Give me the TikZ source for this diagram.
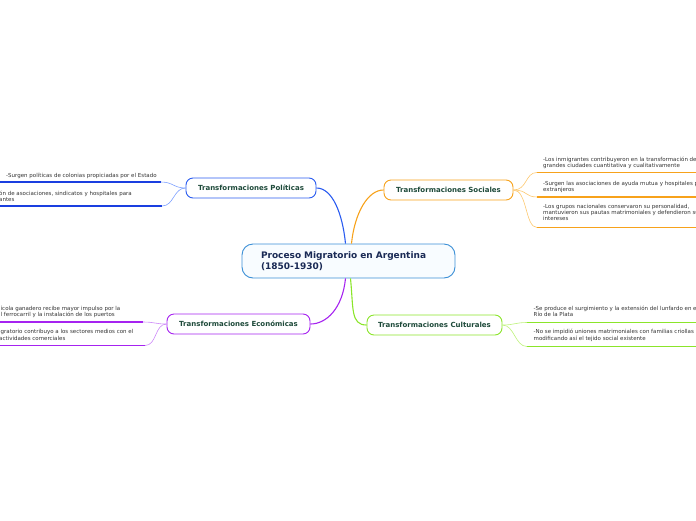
\documentclass[tikz,border=0pt]{standalone}
\usepackage{fontspec}
\setmainfont{DejaVu Sans}
\usetikzlibrary{positioning}

\definecolor{centralblue}{HTML}{3B8FD6}
\definecolor{centralfill}{HTML}{F8FCFF}
\definecolor{centraltext}{HTML}{1A2A55}
\definecolor{topictext}{HTML}{1E4A3A}
\definecolor{leaftext}{HTML}{333333}
\definecolor{polblue}{HTML}{2A5CF0}
\definecolor{polline}{HTML}{1A3FE0}
\definecolor{poltwig}{HTML}{7DA0FF}
\definecolor{socorange}{HTML}{F7A21B}
\definecolor{soctwig}{HTML}{FCC870}
\definecolor{ecopurple}{HTML}{A623F0}
\definecolor{ecotwig}{HTML}{CC88F8}
\definecolor{culgreen}{HTML}{8BE52A}
\definecolor{cultwig}{HTML}{BDF27A}

\begin{document}
\begin{tikzpicture}[x=1pt, y=-1pt,
    central/.style={rectangle, draw=centralblue, rounded corners=11pt, fill=centralfill, line width=0.9pt, inner xsep=19pt, inner ysep=3pt, text width=175pt, minimum height=34pt, text=centraltext, font=\fontsize{9}{11}\selectfont\bfseries, align=left},
    topic/.style={rectangle, draw, rounded corners=7pt, fill=white, line width=0.9pt, minimum height=20pt, text=topictext, font=\fontsize{7}{8}\selectfont\bfseries},
    leaf/.style={anchor=base west, inner sep=0pt, text=leaftext, font=\fontsize{5.5}{6.1}\selectfont, align=left},
    branch/.style={line width=1.1pt},
    twig/.style={line width=0.6pt},
    leafline/.style={line width=1.5pt}
]
\useasboundingbox (0,0) rectangle (696,520);
\clip (0,0) rectangle (696,520);

% central idea and main topics
\node[central] (central) at (348.5,261) {Proceso Migratorio en Argentina\\(1850-1930)};
\node[topic, draw=polblue, minimum width=130pt] (pol) at (251,188) {Transformaciones Políticas};
\node[topic, draw=socorange, minimum width=129pt] (soc) at (448.5,190) {Transformaciones Sociales};
\node[topic, draw=ecopurple, minimum width=143pt] (eco) at (238.5,324) {Transformaciones Económicas};
\node[topic, draw=culgreen, minimum width=135pt] (cul) at (434.5,325) {Transformaciones Culturales};

\draw[branch, polblue] ([xshift=-3pt]central.north) .. controls +(-3,-30) and +(16,0) .. (pol.east);
\draw[branch, socorange] ([xshift=3pt]central.north) .. controls +(3,-30) and +(-16,0) .. (soc.west);
\draw[branch, ecopurple] ([xshift=-3pt]central.south) .. controls +(-3,30) and +(16,0) .. (eco.east);
\draw[branch, culgreen] ([xshift=2pt]central.south) .. controls +(3,30) and +(-16,0) .. (cul.west);

% politicas
\coordinate (p1) at (161,182);
\coordinate (p2) at (162,206);
\node[leaf] (p1t) at (6,177.5) {-Surgen políticas de colonias propiciadas por el Estado};
\node[leaf] (p2t) at (-1,201.5) {ón de asociaciones, sindicatos y hospitales para\\antes};
\foreach \p in {p1,p2} {
  \draw[leafline, polline] (\p) -- ++(-170,0);
  \draw[twig, poltwig] (pol.west) .. controls +(-12,0) and +(12,0) .. (\p);
}

% sociales
\coordinate (s1) at (537,172.5);
\coordinate (s2) at (537,197);
\coordinate (s3) at (537,227.5);
\node[leaf] (s1t) at (543,167.2) {-Los inmigrantes contribuyeron en la transformación de las\\grandes ciudades cuantitativa y cualitativamente};
\node[leaf] (s2t) at (543,191.5) {-Surgen las asociaciones de ayuda mutua y hospitales para\\extranjeros};
\node[leaf] (s3t) at (543,220.5) {-Los grupos nacionales conservaron su personalidad,\\mantuvieron sus pautas matrimoniales y defendieron sus\\intereses};
\foreach \s in {s1,s2,s3} {
  \draw[leafline, socorange] (\s) -- ++(170,0);
  \draw[twig, soctwig] (soc.east) .. controls +(14,0) and +(-12,0) .. (\s);
}

% economicas
\coordinate (e1) at (143,322);
\coordinate (e2) at (145,345.5);
\node[leaf] (e1t) at (0.5,316.5) {ícola ganadero recibe mayor impulso por la\\l ferrocarril y la instalación de los puertos};
\node[leaf] (e2t) at (-1,340) {igratorio contribuyo a los sectores medios con el\\ actividades comerciales};
\foreach \e in {e1,e2} {
  \draw[leafline, ecopurple] (\e) -- ++(-150,0);
  \draw[twig, ecotwig] (eco.west) .. controls +(-12,0) and +(12,0) .. (\e);
}

% culturales
\coordinate (c1) at (527,322.5);
\coordinate (c2) at (527,346.5);
\node[leaf] (c1t) at (533.5,316.5) {-Se produce el surgimiento y la extensión del lunfardo en el\\Río de la Plata};
\node[leaf] (c2t) at (533.5,340) {-No se impidió uniones matrimoniales con familias criollas\\modificando así el tejido social existente};
\foreach \c in {c1,c2} {
  \draw[leafline, culgreen] (\c) -- ++(170,0);
  \draw[twig, cultwig] (cul.east) .. controls +(12,0) and +(-12,0) .. (\c);
}
\end{tikzpicture}
\end{document}
